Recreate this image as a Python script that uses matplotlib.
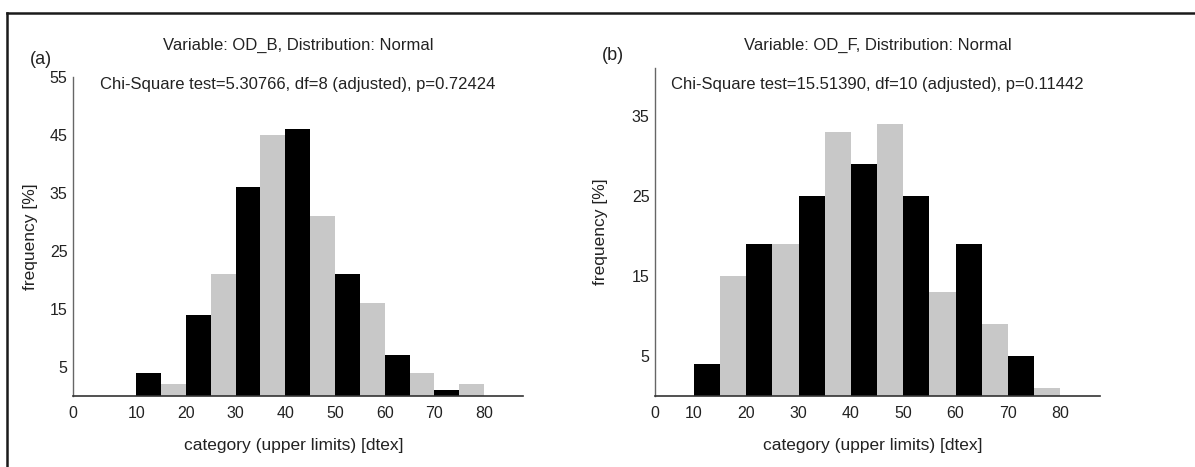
import matplotlib
matplotlib.use("Agg")
import matplotlib.pyplot as plt
from matplotlib.lines import Line2D

plt.rcParams['font.family'] = ['Liberation Sans', 'DejaVu Sans']

# Klassen (untere Grenzen, Breite 5 dtex) und Häufigkeiten in %
klassen = [10, 15, 20, 25, 30, 35, 40, 45, 50, 55, 60, 65, 70, 75]
freq_odb = [4, 2, 14, 21, 36, 45, 46, 31, 21, 16, 7, 4, 1, 2]
freq_odf = [4, 15, 19, 19, 25, 33, 29, 34, 25, 13, 19, 9, 5, 1]

xtick_werte = [10, 20, 30, 40, 50, 60, 70, 80]
titel_a = ["Variable: OD_B, Distribution: Normal",
           "Chi-Square test=5.30766, df=8 (adjusted), p=0.72424"]
titel_b = ["Variable: OD_F, Distribution: Normal",
           "Chi-Square test=15.51390, df=10 (adjusted), p=0.11442"]

W, H = 1195, 467
fig = plt.figure(figsize=(W / 100, H / 100), dpi=100)

txt = '#222222'
farben = ['#000000' if i % 2 == 0 else '#c8c8c8' for i in range(len(klassen))]


def panel(px_left, px_right, px_top, freq, xlim, ylim, yticks, titel, buchstabe, lab_pos):
    base = 396
    ax = fig.add_axes([px_left / W, (H - base) / H,
                       (px_right - px_left) / W, (base - px_top) / H])
    ax.bar(klassen, freq, width=5, align='edge', color=farben, edgecolor='none')
    ax.set_xlim(*xlim)
    ax.set_ylim(*ylim)
    # "0" steht wie im Original direkt am Achsenursprung
    ax.set_xticks([xlim[0]] + xtick_werte)
    ax.set_xticklabels(['0'] + [str(v) for v in xtick_werte])
    ax.set_yticks(yticks)
    ax.tick_params(length=0, labelsize=11.5, colors=txt, pad=4)
    ax.tick_params(axis='x', pad=7)
    for s in ['top', 'right']:
        ax.spines[s].set_visible(False)
    ax.spines['left'].set_color('#666666')
    ax.spines['bottom'].set_color('#333333')
    ax.spines['left'].set_linewidth(1.0)
    ax.spines['bottom'].set_linewidth(1.2)
    ax.set_ylabel('frequency [%]', fontsize=12.5, color=txt)
    ax.set_xlabel('category (upper limits) [dtex]', fontsize=12.5, color=txt)
    ax.yaxis.set_label_coords(lab_pos[0], 0.5)
    ax.xaxis.set_label_coords(0.49, lab_pos[1])
    cx = (px_left + px_right) / 2 / W
    fig.text(cx, 1 - 45 / H, titel[0], ha='center', va='center', fontsize=12, color=txt)
    fig.text(cx, 1 - 85 / H, titel[1], ha='center', va='center', fontsize=12, color=txt)
    fig.text(buchstabe[1] / W, 1 - buchstabe[2] / H, buchstabe[0],
             ha='center', va='center', fontsize=13, color=txt)
    return ax


panel(73, 523, 77, freq_odb, (-2.7, 87.8), (0, 55), [5, 15, 25, 35, 45, 55],
      titel_a, ('(a)', 41, 59), (-0.078, -0.132))
panel(655, 1100, 68, freq_odf, (2.55, 87.6), (0, 41), [5, 15, 25, 35],
      titel_b, ('(b)', 613, 55), (-0.106, -0.128))

# Rahmen oben und links (Bildausschnitt)
fig.add_artist(Line2D([7 / W, 1], [1 - 13 / H, 1 - 13 / H], color='#1a1a1a', lw=1.8,
                      transform=fig.transFigure))
fig.add_artist(Line2D([7 / W, 7 / W], [0, 1 - 13 / H], color='#1a1a1a', lw=1.8,
                      transform=fig.transFigure))

fig.savefig('out.png', dpi=100, facecolor='white')
